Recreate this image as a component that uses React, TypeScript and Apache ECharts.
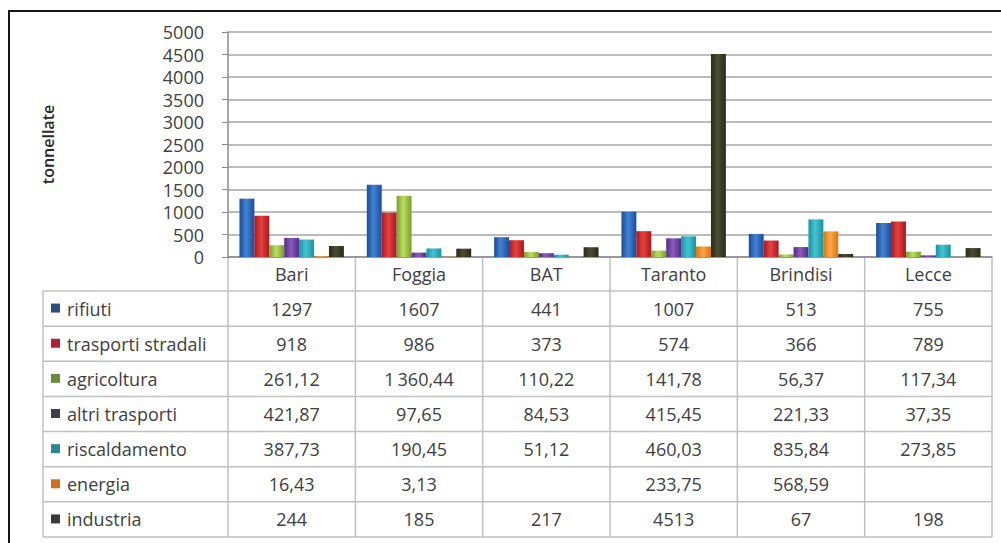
import React, { useEffect, useRef } from "react";
import * as echarts from "echarts";

// Provinces (columns of the data table)
const categories = ["Bari", "Foggia", "BAT", "Taranto", "Brindisi", "Lecce"];

// Emission sources (rows of the data table), tonnes per province
const seriesNames = [
  "rifiuti",
  "trasporti stradali",
  "agricoltura",
  "altri trasporti",
  "riscaldamento",
  "energia",
  "industria",
];
const rifiuti = [1297, 1607, 441, 1007, 513, 755];
const trasportiStradali = [918, 986, 373, 574, 366, 789];
const agricoltura = [261.12, 1360.44, 110.22, 141.78, 56.37, 117.34];
const altriTrasporti = [421.87, 97.65, 84.53, 415.45, 221.33, 37.35];
const riscaldamento = [387.73, 190.45, 51.12, 460.03, 835.84, 273.85];
const energia = [16.43, 3.13, null, 233.75, 568.59, null];
const industria = [244, 185, 217, 4513, 67, 198];

const yTicks = [0, 500, 1000, 1500, 2000, 2500, 3000, 3500, 4000, 4500, 5000];

const seriesData = [
  rifiuti,
  trasportiStradali,
  agricoltura,
  altriTrasporti,
  riscaldamento,
  energia,
  industria,
];

// bar shading: [edge, highlight]
const barColors = [
  ["#1b4c98", "#4283d4"],
  ["#a8181f", "#e4423e"],
  ["#76a028", "#bcdc62"],
  ["#552a86", "#8c5cbc"],
  ["#17929f", "#46c3d2"],
  ["#dc7410", "#f9a646"],
  ["#2a2a1a", "#4c4c32"],
];
// small legend keys inside the table
const keyColors = ["#2d4d80", "#b0203e", "#6a8a40", "#3e3e46", "#2a8890", "#d0701e", "#38383e"];

const W = 1001;
const H = 543;
const GRID_LEFT = 228;
const GRID_RIGHT = 9;
const GRID_TOP = 32;
const AXIS_Y = 257;
const TABLE_LEFT = 43;
const HEADER_BOTTOM = 291;
const TABLE_BOTTOM = 537;
const FONT = "'Open Sans', Lato, sans-serif";
const TEXT = "#404040";
const LINE = "#c0c0c0";

function fmt(v: number | null): string {
  if (v === null || v === undefined) return "";
  if (Number.isInteger(v)) return String(v);
  const [intPart, dec] = v.toFixed(2).split(".");
  const grouped = intPart.replace(/\B(?=(\d{3})+(?!\d))/g, "\u2009");
  return grouped + "," + dec;
}

function buildTable(): any[] {
  const els: any[] = [];
  const plotRight = W - GRID_RIGHT;
  const colW = (plotRight - GRID_LEFT) / categories.length;
  const rowH = (TABLE_BOTTOM - HEADER_BOTTOM) / seriesNames.length;
  const lineStyle = { stroke: LINE, lineWidth: 1.5 };

  // horizontal rules
  for (let r = 0; r <= seriesNames.length; r++) {
    const y = HEADER_BOTTOM + r * rowH;
    els.push({ type: "line", shape: { x1: TABLE_LEFT, y1: y, x2: plotRight, y2: y }, style: lineStyle, silent: true });
  }
  // left border of the label column
  els.push({ type: "line", shape: { x1: TABLE_LEFT, y1: HEADER_BOTTOM, x2: TABLE_LEFT, y2: TABLE_BOTTOM }, style: lineStyle, silent: true });
  // column dividers
  for (let c = 0; c <= categories.length; c++) {
    const x = GRID_LEFT + c * colW;
    els.push({ type: "line", shape: { x1: x, y1: AXIS_Y, x2: x, y2: TABLE_BOTTOM }, style: lineStyle, silent: true });
  }

  seriesNames.forEach((name, r) => {
    const cy = HEADER_BOTTOM + (r + 0.5) * rowH;
    els.push({
      type: "rect",
      shape: { x: 51, y: cy - 5, width: 9, height: 9 },
      style: { fill: keyColors[r] },
      silent: true,
    });
    els.push({
      type: "text",
      x: 67,
      y: cy,
      style: { text: name, font: `18px ${FONT}`, fill: TEXT, textVerticalAlign: "middle", textAlign: "left" },
      silent: true,
    });
    seriesData[r].forEach((v, c) => {
      els.push({
        type: "text",
        x: GRID_LEFT + (c + 0.5) * colW,
        y: cy,
        style: { text: fmt(v), font: `18px ${FONT}`, fill: TEXT, textVerticalAlign: "middle", textAlign: "center" },
        silent: true,
      });
    });
  });

  // outer frame (left and top edges)
  els.push({ type: "line", shape: { x1: 9, y1: 11, x2: 9, y2: H }, style: { stroke: "#151515", lineWidth: 2 }, silent: true });
  els.push({ type: "line", shape: { x1: 8, y1: 11, x2: W, y2: 11 }, style: { stroke: "#151515", lineWidth: 2 }, silent: true });
  return els;
}

export default function App() {
  const ref = useRef<HTMLDivElement>(null);

  useEffect(() => {
    document.body.style.margin = "0";
    if (!ref.current) return;
    const chart = echarts.init(ref.current, null, { renderer: "svg" });
    chart.setOption({
      animation: false,
      backgroundColor: "#ffffff",
      grid: {
        left: GRID_LEFT,
        right: GRID_RIGHT,
        top: GRID_TOP,
        bottom: H - AXIS_Y,
        containLabel: false,
      },
      xAxis: {
        type: "category",
        data: categories,
        axisLine: { show: true, lineStyle: { color: "#8c8c8c", width: 1.5 } },
        axisTick: { show: false },
        axisLabel: { color: TEXT, fontFamily: FONT, fontSize: 18, margin: 8 },
        splitLine: { show: false },
      },
      yAxis: {
        type: "value",
        min: yTicks[0],
        max: yTicks[yTicks.length - 1],
        interval: yTicks[1] - yTicks[0],
        name: "tonnellate",
        nameLocation: "middle",
        nameRotate: 90,
        nameGap: 172,
        nameTextStyle: { color: "#2a2a2a", fontFamily: FONT, fontSize: 16, fontWeight: 600 },
        axisLine: { show: true, lineStyle: { color: "#8c8c8c", width: 1.5 } },
        axisTick: { show: true, length: 6, lineStyle: { color: "#8c8c8c" } },
        axisLabel: {
          color: TEXT,
          fontFamily: FONT,
          fontSize: 18,
          margin: 24,
          formatter: (v: number) => String(v),
        },
        splitLine: { show: true, lineStyle: { color: "#a6a6a6", width: 1.5 } },
      },
      series: seriesNames.map((name, i) => ({
        name,
        type: "bar",
        data: seriesData[i],
        barGap: "0%",
        barCategoryGap: "18%",
        itemStyle: {
          color: new echarts.graphic.LinearGradient(0, 0, 1, 0, [
            { offset: 0, color: barColors[i][0] },
            { offset: 0.45, color: barColors[i][1] },
            { offset: 1, color: barColors[i][0] },
          ]),
        },
      })),
      graphic: buildTable(),
    });
    return () => chart.dispose();
  }, []);

  return <div ref={ref} style={{ width: W, height: H }} />;
}
